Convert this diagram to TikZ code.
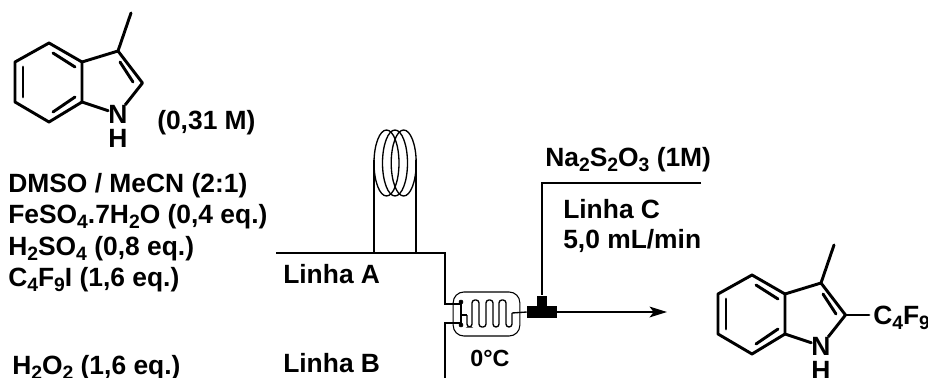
\documentclass[tikz,border=0pt]{standalone}
\usepackage{fontspec}
\setmainfont{Liberation Sans}
\usetikzlibrary{arrows.meta}
\newcommand{\low}[1]{\raisebox{-0.42ex}{\fontsize{14.5}{14.5}\selectfont #1}}
\tikzset{
    bond/.style={line width=2.2pt, line cap=round, line join=round},
    tube/.style={line width=1.8pt, line join=miter},
    thin tube/.style={line width=1pt},
    label/.style={anchor=base west, inner sep=0pt, font=\fontsize{19.8}{19.8}\selectfont\bfseries},
    atom/.style={inner sep=0pt, font=\fontsize{19.8}{19.8}\selectfont\bfseries},
    block/.style={fill=black, draw=none, inner sep=0pt}
}
% indole skeleton, with C2 and N named
\newcommand{\indolecore}{
    \coordinate (c4) at (49, 43);
    \coordinate (c3a) at (82, 62);
    \coordinate (c7a) at (82, 102);
    \coordinate (c7) at (49, 122);
    \coordinate (c6) at (15, 102);
    \coordinate (c5) at (15, 62);
    \coordinate (c3) at (118, 51);
    \coordinate (c2) at (142.5, 83);
    \coordinate (me) at (131, 13);
    \node[atom] (nit) at (118, 114) {N};
    \node[atom] (hyd) at (118, 138) {H};
    \draw[bond] (c3a) -- (c4) -- (c5) -- (c6) -- (c7) -- (c7a) -- cycle;
    \draw[bond] (c3a) -- (c3) -- (c2) -- (nit) -- (c7a);
    \draw[bond] (c3) -- (me);
    \draw[bond] (53, 53) -- (75, 67);
    \draw[bond] (23, 67) -- (23, 97);
    \draw[bond] (53, 112) -- (75, 97);
    \draw[bond] (120, 62) -- (133, 82);
}
\begin{document}
\begin{tikzpicture}[x=0.75pt, y=-0.75pt]
    \useasboundingbox (0, 0) rectangle (928, 378);
    % substrate
    \begin{scope}
        \indolecore
    \end{scope}
    \node[label] (conc) at (157, 129) {(0,31 M)};
    % reagents
    \node[label] (solv) at (8, 192) {DMSO / MeCN (2:1)};
    \node[label] (iron) at (8, 223) {FeSO\low{4}.7H\low{2}O (0,4 eq.)};
    \node[label] (acid) at (8, 255) {H\low{2}SO\low{4} (0,8 eq.)};
    \node[label] (perf) at (8, 286) {C\low{4}F\low{9}I (1,6 eq.)};
    \node[label] (pero) at (12, 374) {H\low{2}O\low{2} (1,6 eq.)};
    % line labels
    \node[label] (lina) at (283, 283) {Linha A};
    \node[label] (linb) at (283, 372) {Linha B};
    \node[label] (quen) at (545, 166) {Na\low{2}S\low{2}O\low{3} (1M)};
    \node[label] (linc) at (563, 218) {Linha C};
    \node[label] (rate) at (563, 248) {5,0 mL/min};
    % reactor and mixer
    \node[draw, line width=0.8pt, rounded corners=8pt, minimum width=50pt, minimum height=33pt, inner sep=0pt] (reactor) at (486.5, 314) {};
    \node[label, anchor=base, font=\fontsize{17.5}{17.5}\selectfont\bfseries] (temp) at (490, 366) {0°C};
    \node[block, minimum width=22.5pt, minimum height=9pt] (mixer) at (542, 312) {};
    \node[block, minimum width=7.5pt, minimum height=8pt] (stem) at (542, 301) {};
    % coordinates of the tubes
    \coordinate (astart) at (276, 253);
    \coordinate (acorner) at (445, 253);
    \coordinate (abend) at (445, 304);
    \coordinate (aend) at (461, 304);
    \coordinate (bstart) at (445, 378);
    \coordinate (bbend) at (445, 323);
    \coordinate (bend2) at (461, 323);
    \coordinate (cstart) at (701, 183);
    \coordinate (ccorner) at (542, 183);
    \coordinate (prod) at (667, 312);
    \coordinate (legl) at (374, 160);
    \coordinate (legr) at (416, 160);
    \coordinate (legla) at (374, 253);
    \coordinate (legra) at (416, 253);
    \draw[tube] (astart) -- (acorner) -- (abend) -- (aend);
    \draw[tube] (bstart) -- (bbend) -- (bend2);
    \draw[tube] (cstart) -- (ccorner) -- (stem.north);
    \draw[tube, -{Stealth[length=13pt, width=8pt, inset=3pt]}] (mixer.east) -- (prod);
    % coil
    \draw[tube] (legl) -- (legla);
    \draw[tube] (legr) -- (legra);
    \foreach \cx in {386.5, 395, 403.7} {
        \draw[thin tube] (\cx, 163) ellipse [x radius=12.5, y radius=33];
    }
    % channel of the reactor
    \filldraw (461, 302) circle (1.5pt);
    \filldraw (461, 325) circle (1.5pt);
    \draw[thin tube] (461, 302) -- (461, 325);
    \draw[thin tube] (461, 315) -- (467, 315);
    \draw[thin tube, rounded corners=2.2pt] (467, 315) -- (467, 327) -- (472, 327) -- (472, 300) -- (479, 300) -- (479, 327) -- (486, 327) -- (486, 300) -- (493, 300) -- (493, 327) -- (499, 327) -- (499, 300) -- (506, 300) -- (506, 327) -- (512, 327) -- (512, 313);
    \draw[thin tube] (512, 313) -- (mixer.west);
    % product
    \begin{scope}[shift={(703, 232)}]
        \indolecore
    \end{scope}
    \draw[bond] (c2) -- (869, 315);
    \node[label] (chain) at (873, 324) {C\low{4}F\low{9}};
\end{tikzpicture}
\end{document}
